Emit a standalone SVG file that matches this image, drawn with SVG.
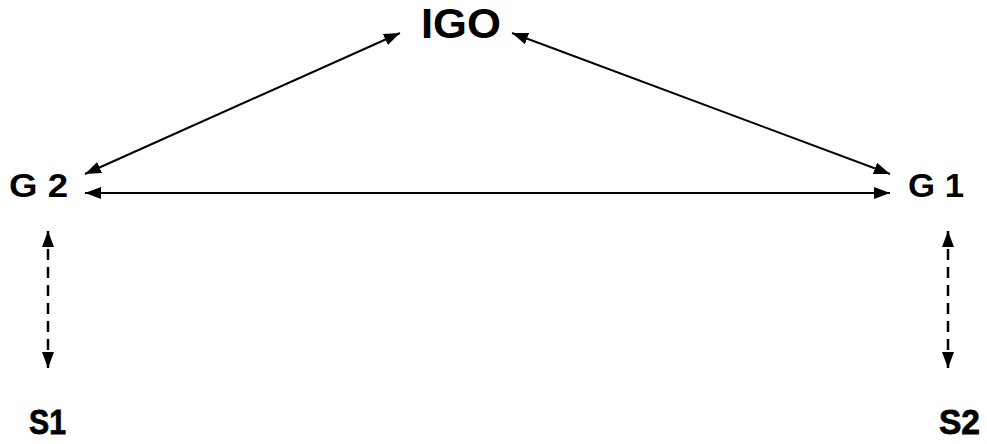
<svg xmlns="http://www.w3.org/2000/svg" width="987" height="444" viewBox="0 0 987 444">
<style>
.t{font-family:"Liberation Sans",Arial,sans-serif;font-weight:bold;fill:#000}
.c{stroke:#000;stroke-width:2;fill:none}
.d{stroke:#000;stroke-width:2.5;fill:none;stroke-dasharray:11 7}
</style>
<defs>
<marker id="a" viewBox="0 0 16 12" refX="16" refY="6" markerWidth="16" markerHeight="12" markerUnits="userSpaceOnUse" orient="auto-start-reverse">
<path d="M0,0 L16,6 L0,12 Z" fill="#000"/>
</marker>
</defs>
<rect width="987" height="444" fill="#fff"/>
<g id="connectors">
<line class="c" x1="85" y1="174" x2="400" y2="33" marker-start="url(#a)" marker-end="url(#a)"/>
<line class="c" x1="512" y1="33" x2="890" y2="174" marker-start="url(#a)" marker-end="url(#a)"/>
<line class="c" x1="85" y1="193" x2="890" y2="193" marker-start="url(#a)" marker-end="url(#a)"/>
<line class="d" x1="48" y1="231" x2="48" y2="368" marker-start="url(#a)" marker-end="url(#a)"/>
<line class="d" x1="948" y1="231" x2="948" y2="368" marker-start="url(#a)" marker-end="url(#a)"/>
</g>
<g id="IGO"><text class="t" x="421" y="38" font-size="42" textLength="80" lengthAdjust="spacingAndGlyphs">IGO</text></g>
<g id="G2"><text class="t" x="9" y="197" font-size="34" textLength="59" lengthAdjust="spacingAndGlyphs">G 2</text></g>
<g id="G1"><text class="t" x="908" y="197" font-size="34" textLength="56" lengthAdjust="spacingAndGlyphs">G 1</text></g>
<g id="S1"><text class="t" x="29" y="434" font-size="35" textLength="37" lengthAdjust="spacingAndGlyphs" stroke="#000" stroke-width="0.8">S1</text></g>
<g id="S2"><text class="t" x="939" y="434" font-size="35" textLength="41" lengthAdjust="spacingAndGlyphs" stroke="#000" stroke-width="0.8">S2</text></g>
</svg>
